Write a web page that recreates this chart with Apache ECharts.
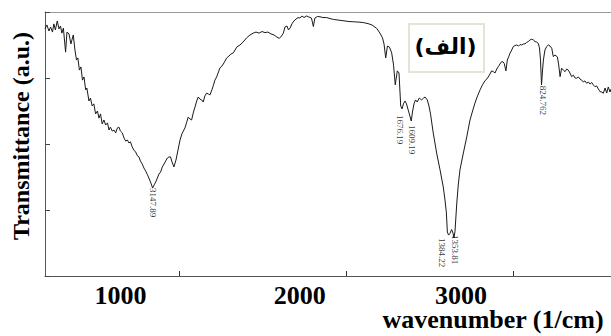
<!DOCTYPE html>
<html>
<head>
<meta charset="utf-8">
<script src="https://cdn.jsdelivr.net/npm/echarts@6.0.0/dist/echarts.min.js"></script>
<style>html,body{margin:0;padding:0;background:#fff}#c{width:611px;height:336px}</style>
</head>
<body>
<div id="c"></div>
<script>
// x positions on the printed axis scale, and transmittance (0-100, arbitrary units)
const wavenumber = [557,568,580,590,601,609,618,629,639,648,656,665,678,686,698,709,723,733,742,750,759,768,777,786,796,803,815,824,834,844,854,865,874,883,893,903,913,924,933,941,952,962,972,982,991,1000,1011,1021,1031,1041,1050,1059,1069,1079,1089,1100,1109,1117,1128,1138,1148,1159,1167,1179,1189,1198,1207,1217,1226,1236,1246,1256,1266,1276,1285,1294,1303,1314,1326,1338,1350,1361,1379,1388,1398,1408,1418,1429,1438,1448,1457,1467,1477,1486,1496,1506,1517,1526,1537,1545,1555,1565,1576,1584,1596,1608,1624,1637,1649,1663,1683,1702,1720,1741,1761,1780,1796,1814,1831,1849,1866,1884,1902,1919,1933,1946,1957,1966,1978,1987,1996,2007,2019,2031,2043,2054,2066,2078,2094,2107,2122,2133,2142,2157,2172,2189,2211,2231,2250,2272,2295,2319,2342,2367,2395,2426,2454,2477,2505,2524,2539,2548,2558,2568,2580,2593,2604,2614,2626,2636,2646,2654,2662,2671,2680,2690,2700,2708,2715,2724,2733,2743,2755,2769,2780,2789,2802,2812,2821,2837,2857,2877,2896,2906,2914,2920,2927,2935,2945,2953,2959,2965,2975,2984,2994,3014,3034,3053,3068,3082,3097,3112,3126,3141,3156,3170,3180,3190,3200,3210,3219,3229,3239,3247,3254,3264,3272,3280,3288,3298,3307,3317,3327,3338,3347,3356,3367,3376,3386,3395,3405,3415,3425,3435,3445,3454,3461,3467,3473,3479,3484,3493,3503,3513,3523,3533,3542,3552,3566,3574,3582,3591,3601,3611,3621,3630,3640,3650,3660,3670,3680,3689,3699,3709,3718,3728,3738,3748,3758,3768,3777,3787,3797,3807,3817,3827,3836,3846,3856,3865,3875,3881];
const transmittance = [93.6,95.1,92.8,94.3,92.4,95.5,93.2,96.6,93.6,94.7,92.0,93.9,84.8,92.4,91.7,87.9,91.3,85.6,81.8,82.6,78.0,79.2,74.2,75.4,70.5,71.2,66.3,67.4,64.4,65.2,61.4,62.5,59.8,61.4,57.6,59.1,57.2,58.0,55.3,56.4,54.9,55.3,54.2,56.1,56.4,54.9,54.2,52.3,51.1,51.5,50.4,50.8,48.9,47.7,47.0,45.5,45.1,43.6,42.4,40.9,39.8,38.3,37.1,35.2,33.3,34.5,35.6,37.1,38.6,39.4,41.3,42.4,43.6,44.7,45.1,45.1,43.2,41.3,43.9,47.7,51.5,53.8,56.1,58.0,60.2,59.5,59.1,62.1,64.0,66.3,67.8,67.0,66.7,65.9,68.2,69.3,68.9,68.6,70.5,72.0,74.2,75.4,77.3,78.8,79.5,80.7,82.6,83.3,84.1,84.5,86.7,87.5,88.6,90.2,91.3,92.0,92.4,92.0,92.6,92.2,92.4,91.7,91.3,90.5,90.0,90.9,92.0,94.3,94.7,93.2,93.9,95.5,96.6,97.3,97.9,97.7,98.5,97.9,98.5,98.1,97.7,94.5,97.7,98.3,98.2,97.9,97.9,97.5,97.2,97.0,96.8,96.6,96.4,96.3,96.2,96.0,95.6,95.1,93.8,92.0,90.2,87.9,82.6,87.1,86.7,84.5,79.9,72.4,77.7,76.9,64.4,63.3,65.2,66.3,65.2,62.9,60.6,58.7,62.1,65.2,66.7,65.9,67.4,66.7,67.4,67.8,66.7,64.4,61.4,54.2,46.6,40.2,33.7,28.8,24.2,16.7,15.5,16.1,17.6,16.3,14.4,17.0,27.3,34.5,40.2,46.6,52.7,59.1,62.5,65.5,68.2,70.5,72.4,73.9,75.0,76.5,77.7,77.4,76.9,78.4,79.3,80.3,81.2,81.1,80.5,77.7,81.8,83.0,84.4,85.6,86.9,87.3,87.5,87.1,87.7,87.5,87.9,87.9,88.5,88.8,89.4,89.7,89.4,88.8,88.6,88.1,86.4,81.8,72.4,78.0,81.8,85.6,86.9,87.5,87.1,86.3,83.1,83.7,83.0,79.9,75.5,78.7,78.0,77.4,78.4,78.0,76.9,75.5,76.1,75.0,74.9,75.4,74.6,74.2,73.5,73.9,73.0,73.5,72.7,73.3,72.4,71.7,72.0,70.8,69.8,69.7,69.2,71.2,69.3,71.6,69.7,70.8];

// peak annotations
const peakLabels = ['3147.89','1676.19','1609.19','1384.22','1353.81','824.762'];
const peakX = [1189, 2654, 2708, 2927, 2959, 3473];
const peakT = [33.3, 63.3, 58.7, 15.5, 14.4, 72.4];
const peakOffsets = [[0,0],[6,2.5],[4,-0.3],[3,7],[-3,-1],[1,-1]];

// axis
const xTickLabels = [1000, 2000, 3000];
const xTickMarks = [1344, 2324, 3305];
const xMin = 557, xMax = 3881;
const yMin = 0, yMax = 100, yStep = 25;

const serif = "'Liberation Serif', 'Times New Roman', serif";

const chart = echarts.init(document.getElementById('c'), null, {renderer: 'svg'});
chart.setOption({
  animation: false,
  backgroundColor: '#fff',
  grid: {left: 45, right: 0, top: 12, bottom: 60, containLabel: false, outerBoundsMode: 'none'},
  xAxis: [{
    type: 'value', min: xMin, max: xMax, position: 'bottom',
    name: 'wavenumber (1/cm)', nameLocation: 'middle', nameGap: 32, nameMoveOverlap: false,
    nameTextStyle: {fontFamily: serif, fontWeight: 'bold', fontSize: 26, lineHeight: 22, color: '#000',
      verticalAlign: 'top', padding: [0, 0, 0, 330]},
    axisLine: {show: true, lineStyle: {color: '#555', width: 1}},
    axisTick: {show: true, inside: true, length: 5, customValues: xTickMarks, lineStyle: {color: '#333'}},
    axisLabel: {show: true, customValues: xTickLabels, margin: 9, hideOverlap: false,
      fontFamily: serif, fontWeight: 'bold', fontSize: 26, lineHeight: 20, color: '#000',
      formatter: v => v === 2000 ? '{s|' + v + '}' : '{n|' + v + '}',
      rich: {
        n: {fontFamily: serif, fontWeight: 'bold', fontSize: 26, lineHeight: 20, color: '#000'},
        s: {fontFamily: serif, fontWeight: 'bold', fontSize: 26, lineHeight: 20, color: '#000', padding: [0, 0, 0, 18]}
      }},
    splitLine: {show: false}
  }, {
    type: 'value', min: xMin, max: xMax, position: 'top',
    axisLine: {show: true, lineStyle: {color: '#999', width: 1}},
    axisTick: {show: false}, axisLabel: {show: false}, splitLine: {show: false}
  }],
  yAxis: {
    type: 'value', min: yMin, max: yMax, interval: yStep,
    name: 'Transmittance (a.u.)', nameLocation: 'middle', nameGap: 12,
    nameTextStyle: {fontFamily: serif, fontWeight: 'bold', fontSize: 24, color: '#000', padding: [0, 0, 0, 16]},
    axisLine: {show: true, lineStyle: {color: '#555', width: 1}},
    axisTick: {show: true, inside: true, length: 5, lineStyle: {color: '#444'}},
    axisLabel: {show: false},
    splitLine: {show: false}
  },
  graphic: [{
    type: 'rect', left: 408, top: 23,
    shape: {width: 75, height: 48},
    style: {fill: '#fff', stroke: '#e6e2d4', lineWidth: 2}
  }, {
    type: 'text', x: 445.5, y: 46,
    style: {text: '(الف)', fontFamily: "'DejaVu Sans', sans-serif", fontWeight: 'bold', fontSize: 22, fill: '#000',
      align: 'center', verticalAlign: 'middle'}
  }],
  series: [{
    type: 'line',
    data: wavenumber.map((x, i) => [x, transmittance[i]]),
    showSymbol: false, symbol: 'none',
    lineStyle: {color: '#1a1a1a', width: 1},
    z: 3
  }, {
    type: 'scatter', symbolSize: 0,
    itemStyle: {color: '#000'},
    data: peakLabels.map((t, i) => ({
      value: [peakX[i], peakT[i]],
      label: {show: true, formatter: t, rotate: -90, position: 'bottom', distance: 0,
        align: 'left', verticalAlign: 'middle', offset: peakOffsets[i],
        fontFamily: serif, fontSize: 9, color: '#000', textBorderWidth: 0}
    })),
    z: 4
  }]
});
</script>
</body>
</html>
